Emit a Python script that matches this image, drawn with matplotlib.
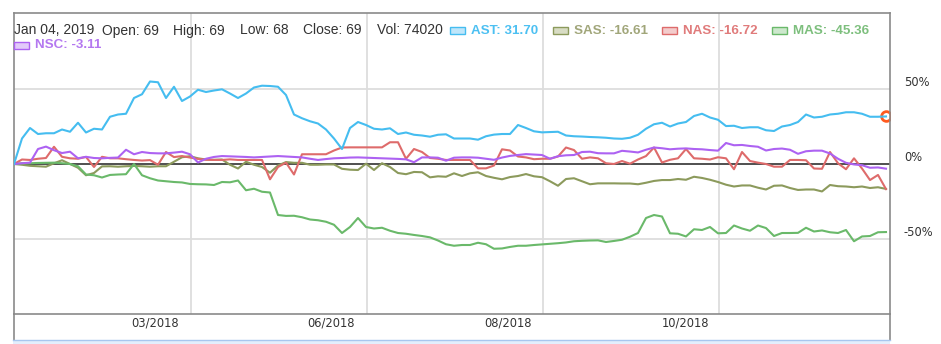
import numpy as np
import matplotlib
matplotlib.use('Agg')
import matplotlib.pyplot as plt
from matplotlib.patches import Rectangle
from matplotlib.lines import Line2D

# % change since start, one value per sample
ast = [0, 17, 24, 20, 20.5, 20.5, 23, 21.5, 27.5, 21, 23.5, 23, 31.5, 33, 33.5, 44, 46.5, 55, 54.5, 44,
       51.5, 42, 45, 49.5, 48, 49, 49.8, 47, 44, 47, 51, 52.2, 52, 51.5, 46, 33, 30.5, 28.5, 27, 23,
       17, 10, 24, 28, 26, 23.5, 23, 23.8, 20, 21, 19.5, 19, 18.2, 19.5, 19.8, 17, 17, 17, 16.2, 18.5,
       19.6, 20, 20, 26, 24, 21.8, 21.1, 21.3, 21.5, 19, 18.5, 18.3, 18, 17.8, 17.5, 17, 16.8, 17.5, 19.5, 23.5,
       26.5, 27.5, 25, 27, 28, 32, 33.5, 31, 29.5, 25.3, 25.5, 24, 24.5, 24.5, 22.5, 22, 25, 26, 28, 33,
       31, 31.5, 33, 33.5, 34.5, 34.5, 33.5, 31.5, 31.5, 31.7]
sas = [0, -0.5, -1.2, -1.5, -1.8, 0.5, 2.5, 0, -2.5, -7.5, -6, -1.6, -1.5, -1.8, -1.5, -1.3, -1.5, -1.8, -1.5, -1.5,
       1.5, 4.5, 5.2, 3.8, 3, 2.8, 3, -0.5, -3, 1.5, -0.5, -2, -5.8, -1, 1.3, 0.8, 0.8, -0.5, -0.5, -0.3,
       -0.3, -3.2, -3.8, -4, 0.2, -4, 0.5, -2, -6, -6.8, -5.3, -5.5, -8.9, -8.2, -8.5, -6.2, -8, -6.2, -5.5, -8,
       -9.2, -10.2, -8.7, -8, -6.7, -8.2, -8.8, -11.5, -14.5, -10, -9.5, -11.5, -13.5, -12.9, -12.9, -12.9, -13, -13, -13.5, -12.5,
       -11.3, -10.7, -10.7, -10, -10.5, -8.5, -9.3, -10.5, -12, -13.8, -15, -14.3, -14.3, -15.8, -17, -14.5, -14.3, -16, -17.3, -17,
       -17, -18.3, -14, -14.8, -15, -15.5, -15, -16, -15.5, -16.61]
nas = [0, 3, 2.7, 3.5, 4, 11.5, 4.8, 3.8, 3.5, 4.7, -2, 4.8, 3.8, 3.8, 3.2, 2.7, 2.3, 2.6, -0.5, 8,
       4.6, 5.3, 4.3, 3.4, 2.8, 2.7, 2.7, 3.1, 2.7, 2.7, 2.7, 2.7, -10.2, -2, 0.9, -7, 6.5, 6.5, 6.5, 6.5,
       9, 11, 11.1, 11.1, 11.1, 11.1, 11.1, 14.5, 14.5, 3.5, 10, 8, 4, 3.5, 2.7, 2.7, 2.7, 2.7, -2.9, -2.9,
       -1, 9.8, 9, 5, 4.4, 3.2, 3.5, 3.5, 5, 11, 9.3, 3.5, 4.4, 3.8, 0.5, 0, 2, 0.2, 3, 5.3,
       11, 1, 2.8, 3.8, 10, 3.8, 3.5, 3, 4.5, 3.8, -3.5, 8, 2, 0.9, 0, -1.8, -1.8, 2.7, 2.7, 2.5,
       -3, -3.2, 8, 0.5, -3.5, 3.8, -3, -10.7, -7.3, -16.72]
mas = [0, 0.5, 0.5, 0.7, 0.8, 0.9, 0.5, 0, -1.5, -7, -7.5, -9, -7.3, -7, -6.8, 0, -7.5, -9.5, -11, -11.5,
       -12, -12.3, -13.3, -13.5, -13.6, -14, -12, -12.2, -11, -17.5, -16.5, -18.5, -19, -34, -34.6, -34.5, -35.5, -37, -37.5, -38.5,
       -40.5, -46, -42, -36, -42, -43, -42.5, -44.5, -46, -46.5, -47.3, -48, -48.9, -51, -53.5, -54.5, -54, -54, -52.5, -53.5,
       -56.5, -56.3, -55.3, -54.5, -54.5, -54, -53.6, -53.2, -52.8, -52.3, -51.5, -51.2, -51, -50.9, -52, -51.3, -50.5, -48.5, -46, -36,
       -34, -35, -46.2, -46.5, -48.3, -43.5, -44, -42, -46.2, -46, -41, -43, -44.5, -41, -42.7, -48, -46, -46, -45.9, -42.5,
       -45, -44.3, -45.5, -46, -44, -51.5, -48.3, -48, -45.5, -45.36]
nsc = [0, 0.5, 0.9, 10, 11.6, 9.2, 7.3, 8.2, 3.8, 4.8, 4, 3.8, 4.1, 4.3, 9.5, 6.5, 8, 7.3, 7.1, 7.1,
       7.6, 8.2, 6.5, 1, 3.5, 4.7, 5.3, 5.1, 4.9, 4.7, 4.4, 4.7, 5, 5.3, 5, 4.7, 4.4, 3.5, 2.7, 3.3,
       3.8, 4, 4.3, 4.4, 4.2, 4, 3.8, 3.6, 3.4, 3.1, 1.2, 4.4, 4.4, 4.2, 2.2, 4.2, 4.4, 4.4, 4.2, 3.5,
       2.8, 4.3, 5.4, 6, 6.6, 6.3, 6, 3.5, 5.2, 5.8, 6, 8, 8.2, 7.2, 7.1, 7.1, 8.8, 8.3, 7.7, 9.5,
       11, 10.5, 9.8, 10.2, 10.4, 10, 9.8, 9.3, 8.9, 14, 12.5, 12.7, 12, 11.5, 9, 10, 10.3, 9.5, 6.8, 8.5,
       8.9, 8.9, 7, 3.5, 0.8, -0.3, -0.8, -2.5, -2.3, -3.11]

names = ['AST', 'SAS', 'NAS', 'MAS', 'NSC']
series = [ast, sas, nas, mas, nsc]
line_colors = ['#45bdf0', '#8c9a5c', '#de6b6b', '#6ab96a', '#ad62f2']
fill_colors = ['#bfe6fa', '#d8dcc4', '#f3cccc', '#cde8cd', '#e2cafa']
text_colors = ['#4cc0f2', '#a1a67a', '#e07b7b', '#7dbf7d', '#b478f0']

month_labels = ['03/2018', '06/2018', '08/2018', '10/2018']
month_pos = [17.6, 39.6, 61.75, 83.9]
grid_pos = [22.1, 44.1, 66.1, 88.1]

W, H = 941, 344
fig = plt.figure(figsize=(W / 100, H / 100), dpi=100)
ax = fig.add_axes([14 / W, 30 / H, 876 / W, 301 / H])

x = np.arange(len(ast))
for vals, c in zip([sas, mas, nas, nsc, ast], [line_colors[1], line_colors[3], line_colors[2], line_colors[4], line_colors[0]]):
    ax.plot(x, vals, color=c, lw=1.5, zorder=3)

ax.axhline(0, color='#444444', lw=1.3, zorder=2)
# last-point marker sits under the frame
ax.plot(x[-1], ast[-1], 'o', ms=7, mfc='white', mec='#ff5a1f', mew=2, zorder=2.4)

ax.set_xlim(0, 109.5)
ax.set_ylim(-100, 100.67)

ax.set_xticks(grid_pos)
ax.set_xticklabels([])
ax.set_xticks(month_pos, minor=True)
ax.set_xticklabels(month_labels, minor=True)
ax.tick_params(axis='x', which='both', length=0, pad=2, labelsize=8.3, labelcolor='#333333')
ax.grid(axis='x', which='major', color='#dddddd', lw=1.3)

ax.yaxis.tick_right()
ax.set_yticks([-50, 0, 50])
ax.set_yticklabels(['-50%', '0%', '50%'])
ax.tick_params(axis='y', length=0, pad=10, labelsize=8.3, labelcolor='#333333')
for lab in ax.get_yticklabels():
    lab.set_verticalalignment('bottom')
ax.grid(axis='y', color='#dddddd', lw=1.3)
ax.set_axisbelow(True)

for s in ax.spines.values():
    s.set_color('#8a8a8a')
    s.set_linewidth(1.2)

# outer frame below the axis and the bar at the very bottom
for xp in [13.5, 890.0]:
    fig.add_artist(Line2D([xp / W, xp / W], [4 / H, 30 / H], color='#8a8a8a', lw=1.2))
fig.add_artist(Rectangle((13 / W, 0), 877 / W, 4 / H, transform=fig.transFigure,
                         facecolor='#e3eefc', edgecolor='none'))
fig.add_artist(Line2D([13 / W, 890 / W], [4 / H, 4 / H], color='#a8c6ee', lw=1))

# header: last bar values
head = [(14, 'Jan 04, 2019'), (102, 'Open: 69'), (173, 'High: 69'), (240, 'Low: 68'),
        (303, 'Close: 69'), (377, 'Vol: 74020')]
for xp, t in head:
    fig.text(xp / W, 1 - 30.5 / H, t, fontsize=10, family='Liberation Sans', color='#333333', va='center')

# legend with last values
leg_x = [(450, 30.5), (553, 30.5), (662, 30.5), (772, 30.5), (14, 45.5)]
for (xp, yp), n, vals, lc, fc, tc in zip(leg_x, names, series, line_colors, fill_colors, text_colors):
    fig.add_artist(Rectangle((xp / W, 1 - (yp + 3.5) / H), 15 / W, 7 / H, transform=fig.transFigure,
                             facecolor=fc, edgecolor=lc, lw=1))
    fig.text((xp + 21) / W, 1 - yp / H, f'{n}: {vals[-1]:.2f}', fontsize=9.6, family='Liberation Sans',
             weight='bold', color=tc, va='center')

fig.savefig('out.png', dpi=100)
